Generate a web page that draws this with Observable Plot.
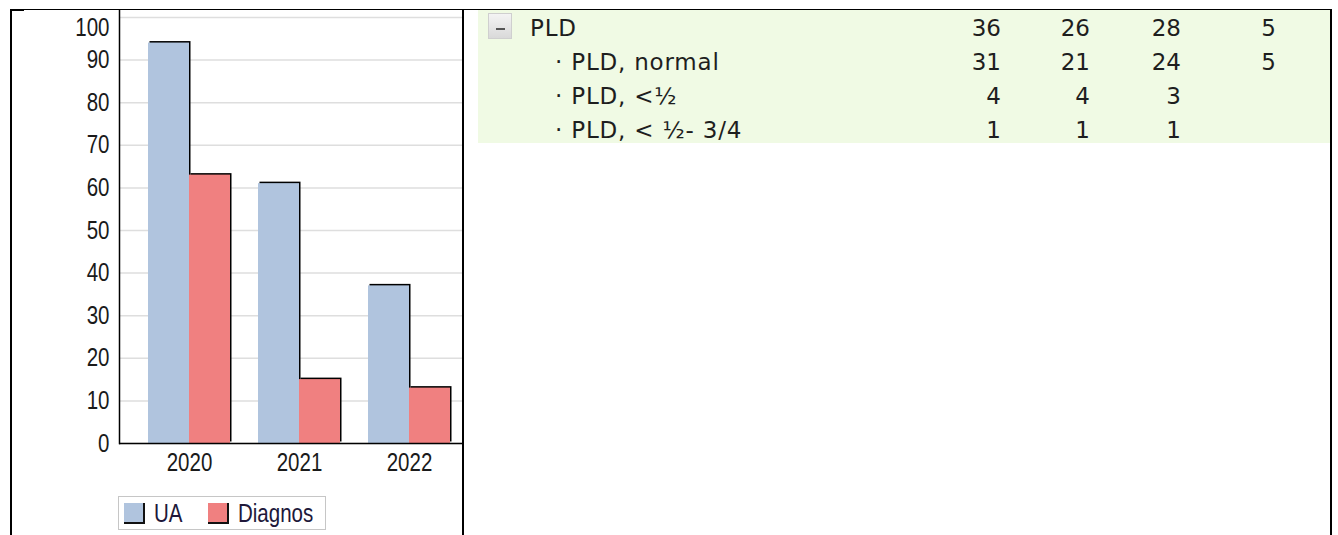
<!DOCTYPE html>
<html>
<head>
<meta charset="utf-8">
<script src="https://cdn.jsdelivr.net/npm/d3@7"></script>
<script src="https://cdn.jsdelivr.net/npm/@observablehq/plot@0.6"></script>
<style>
  html, body { margin: 0; padding: 0; background: #fff; }
  #page { position: relative; width: 1338px; height: 535px; overflow: hidden; background: #fff; }
  .ln { position: absolute; background: #000; }
  #chart { position: absolute; left: 11px; top: 10px; width: 452px; height: 480px; overflow: hidden; }
  #chart svg { max-width: none !important; width: 470px; height: 480px; display: block; }
  #legendBox { position: absolute; left: 118px; top: 496px; width: 208px; height: 34px; box-sizing: border-box; border: 1.5px solid #c6c6c6; background: #fff; }
  .sw { position: absolute; width: 21px; height: 21px; box-sizing: border-box; border-right: 2px solid #111; border-bottom: 2px solid #111; }
  .lt { position: absolute; font-family: 'Liberation Sans', Arial, sans-serif; font-size: 25px; line-height: 34px; color: #20183a; transform: scaleX(0.82); transform-origin: left center; white-space: nowrap; }
  #tbl { position: absolute; left: 478px; top: 10px; width: 852px; height: 133px; background: #f0fae4; }
  .tx { position: absolute; font-family: 'DejaVu Sans', sans-serif; font-size: 23px; line-height: 34px; color: #1e1e1e; white-space: nowrap; }
  .lab { letter-spacing: 0.8px; }
  .num { text-align: right; width: 60px; }
  #btn { position: absolute; left: 488px; top: 13px; width: 24px; height: 26px; box-sizing: border-box; border: 1px solid #cfcfcf; background: linear-gradient(#f4f4f4, #d9d9d9); }
  #btn::after { content: ""; position: absolute; left: 7px; top: 14px; width: 9px; height: 1.5px; background: #555; }
</style>
</head>
<body>
<div id="page">
  <div id="chart"></div>
  <div id="legendBox"></div>
  <div id="tbl"></div>
  <div id="btn"></div>
  <div class="ln" style="left:10px;top:9px;width:1322px;height:1px;"></div>
  <div class="ln" style="left:10px;top:9px;width:14px;height:2px;"></div>
  <div class="ln" style="left:10px;top:9px;width:2px;height:526px;"></div>
  <div class="ln" style="left:462px;top:9px;width:2px;height:526px;"></div>
  <div class="ln" style="left:1330px;top:9px;width:2px;height:526px;"></div>
</div>
<script>
// ---- chart data ----
const years = ["2020", "2021", "2022"];
const ua = [94, 61, 37];
const diagnos = [63, 15, 13];
const yTicks = [0, 10, 20, 30, 40, 50, 60, 70, 80, 90, 100];
const seriesNames = ["UA", "Diagnos"];
const seriesColors = ["#b0c4de", "#f08080"];

// ---- table data ----
const rowLabels = ["PLD", "· PLD, normal", "· PLD, <½", "· PLD, < ½- 3/4"];
const col1 = [36, 31, 4, 1];
const col2 = [26, 21, 4, 1];
const col3 = [28, 24, 3, 1];
const col4 = [5, 5, null, null];

const data = years.map((year, i) => ({year, UA: ua[i], Diagnos: diagnos[i]}));

const plot = Plot.plot({
  width: 470,
  height: 480,
  marginLeft: 108,
  marginRight: 2,
  marginTop: 7,
  marginBottom: 47,
  style: {fontFamily: "'Liberation Sans', Arial, sans-serif", fontSize: "25px", color: "#1a1a1a", background: "transparent", overflow: "visible", maxWidth: "none"},
  x: {domain: years, paddingInner: 0.2545, paddingOuter: 0.2636, round: false, axis: null},
  y: {domain: [0, 100], axis: null},
  marks: [
    Plot.gridY(yTicks, {stroke: "#dedede", strokeOpacity: 1, strokeWidth: 1.5}),
    Plot.barY(data, {x: "year", y: "UA", fill: "#000", insetRight: 41, dx: 1.5, dy: -1.5}),
    Plot.barY(data, {x: "year", y: "UA", fill: seriesColors[0], insetRight: 41}),
    Plot.barY(data, {x: "year", y: "Diagnos", fill: "#000", insetLeft: 41, dx: 1.5, dy: -1.5}),
    Plot.barY(data, {x: "year", y: "Diagnos", fill: seriesColors[1], insetLeft: 41}),
    Plot.ruleY([0], {stroke: "#000", strokeWidth: 1.5}),
    Plot.frame({anchor: "left", insetTop: -7, stroke: "#000", strokeWidth: 1.5}),
    Plot.axisY(yTicks.filter(d => d < 100), {tickSize: 0, tickPadding: 10, label: null}),
    Plot.axisY(yTicks.filter(d => d === 100), {tickSize: 0, tickPadding: 10, dy: 10, label: null}),
    Plot.axisX({tickSize: 0, tickPadding: 10, label: null})
  ]
});
plot.style.maxWidth = "none";
document.getElementById("chart").appendChild(plot);
// condense the axis labels (narrow sans look)
plot.querySelectorAll("text").forEach(t => {
  const w = t.getComputedTextLength();
  if (w > 0) {
    t.setAttribute("textLength", (w * 0.82).toFixed(2));
    t.setAttribute("lengthAdjust", "spacingAndGlyphs");
  }
});

// ---- legend ----
const page = document.getElementById("page");
const legendX = [[124, 154], [208, 238]];
seriesNames.forEach((name, i) => {
  const sw = document.createElement("div");
  sw.className = "sw";
  sw.style.left = legendX[i][0] + "px";
  sw.style.top = "503px";
  sw.style.background = seriesColors[i];
  page.appendChild(sw);
  const t = document.createElement("div");
  t.className = "lt";
  t.style.left = legendX[i][1] + "px";
  t.style.top = "496px";
  t.textContent = name;
  page.appendChild(t);
});

// ---- table ----
const rowTops = [10.5, 44.5, 78.5, 112.5];
const cols = [col1, col2, col3, col4];
const colRight = [1001, 1090, 1181, 1276];
rowLabels.forEach((lab, r) => {
  const d = document.createElement("div");
  d.className = "tx lab";
  d.style.left = (r === 0 ? 530 : 555) + "px";
  d.style.top = rowTops[r] + "px";
  d.textContent = lab;
  page.appendChild(d);
  cols.forEach((col, c) => {
    if (col[r] == null) return;
    const n = document.createElement("div");
    n.className = "tx num";
    n.style.left = (colRight[c] - 60) + "px";
    n.style.top = rowTops[r] + "px";
    n.textContent = col[r];
    page.appendChild(n);
  });
});
</script>
</body>
</html>
